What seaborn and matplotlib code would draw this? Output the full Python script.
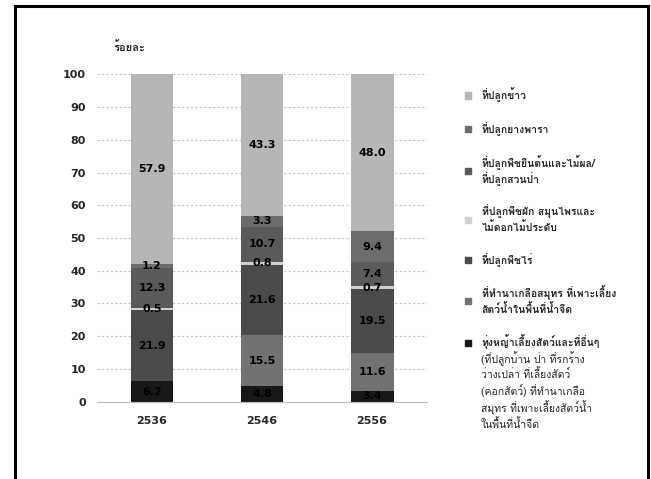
import matplotlib
matplotlib.use('Agg')
import matplotlib.pyplot as plt
import seaborn as sns
from matplotlib import font_manager
from matplotlib.ft2font import FT2Font
from matplotlib.patches import Patch, Rectangle

# Data (percent of agricultural holding land, census years B.E.)
years = ['2536', '2546', '2556']
rice = [57.9, 43.3, 48.0]
rubber = [1.2, 3.3, 9.4]
perennial = [12.3, 10.7, 7.4]
vegetables = [0.5, 0.8, 0.7]
field_crops = [21.9, 21.6, 19.5]
salt_aqua = [0.0, 15.5, 11.6]
other = [6.2, 4.8, 3.4]

labels = ['ที่ปลูกข้าว',
          'ที่ปลูกยางพารา',
          'ที่ปลูกพืชยืนต้นและไม้ผล/\nที่ปลูกสวนป่า',
          'ที่ปลูกพืชผัก สมุนไพรและ\nไม้ดอกไม้ประดับ',
          'ที่ปลูกพืชไร่',
          'ที่ทำนาเกลือสมุทร ที่เพาะเลี้ยง\nสัตว์น้ำในพื้นที่น้ำจืด',
          'ทุ่งหญ้าเลี้ยงสัตว์และที่อื่นๆ']
note = ('(ที่ปลูกบ้าน ป่า ที่รกร้าง\nว่างเปล่า ที่เลี้ยงสัตว์\n(คอกสัตว์) ที่ทำนาเกลือ\n'
        'สมุทร ที่เพาะเลี้ยงสัตว์น้ำ\nในพื้นที่น้ำจืด')
colors = ['#b6b6b6', '#6c6c6c', '#5a5a5a', '#d0d0d0', '#4a4a4a', '#727272', '#181818']


# find any installed font that has Thai glyphs
def find_thai_font():
    for f in font_manager.fontManager.ttflist:
        try:
            if 0x0E01 in FT2Font(f.fname).get_charmap():
                return f.name
        except Exception:
            pass
    return 'DejaVu Sans'


sns.set_style('white')
plt.rcParams['font.family'] = ['DejaVu Sans']
thai = [find_thai_font(), 'DejaVu Sans']

fig = plt.figure(figsize=(6.51, 4.79), dpi=100)
ax = fig.add_axes([0.149, 0.1614, 0.507, 0.6835])

# stack from the bottom up
series = [other, salt_aqua, field_crops, vegetables, perennial, rubber, rice]
series_colors = colors[::-1]
bottom = [0.0, 0.0, 0.0]
for vals, col in zip(series, series_colors):
    sns.barplot(x=years, y=vals, color=col, width=0.39, bottom=bottom,
                edgecolor='none', linewidth=0, saturation=1, ax=ax)
    cont = ax.containers[-1]
    ax.bar_label(cont, labels=['%.1f' % v if v > 0 else '' for v in vals],
                 label_type='center', fontsize=8, fontweight='bold', color='black')
    bottom = [b + v for b, v in zip(bottom, vals)]

ax.set_ylim(0, 100)
ax.set_xlim(-0.5, 2.5)
ax.set_yticks(range(0, 101, 10))
ax.yaxis.grid(True, color='#c4c4c4', linestyle=(0, (2, 2)), linewidth=0.8)
ax.set_axisbelow(True)
for s in ['top', 'right', 'left']:
    ax.spines[s].set_visible(False)
ax.spines['bottom'].set_color('#bdbdbd')
ax.tick_params(axis='y', length=0, labelsize=8, pad=8)
ax.tick_params(axis='x', length=0, labelsize=8, pad=10)
for t in ax.get_xticklabels() + ax.get_yticklabels():
    t.set_fontweight('bold')
ax.set_xlabel('')
ax.set_ylabel('')

fig.text(113 / 651, 1 - 48 / 479, 'ร้อยละ', family=thai, fontsize=8,
         fontweight='bold', va='center', ha='left')

handles = [Patch(color=c) for c in colors]
leg = fig.legend(handles, labels, loc='upper left', bbox_to_anchor=(456 / 651, 1 - 78 / 479),
                 frameon=False, handlelength=0.55, handleheight=0.55, handletextpad=1.0,
                 labelspacing=1.88, prop={'family': thai, 'size': 7.5, 'weight': 'bold'})

fig.text(481 / 651, 1 - 351 / 479, note, family=thai, fontsize=7.5, va='top',
         ha='left', linespacing=1.3, color='#222222')

# outer frame
fig.patches.append(Rectangle((15 / 651, -0.05), 633 / 651, 1.05 - 6 / 479, fill=False,
                             edgecolor='black', linewidth=2.2, transform=fig.transFigure))

fig.savefig('out.png', dpi=100)
